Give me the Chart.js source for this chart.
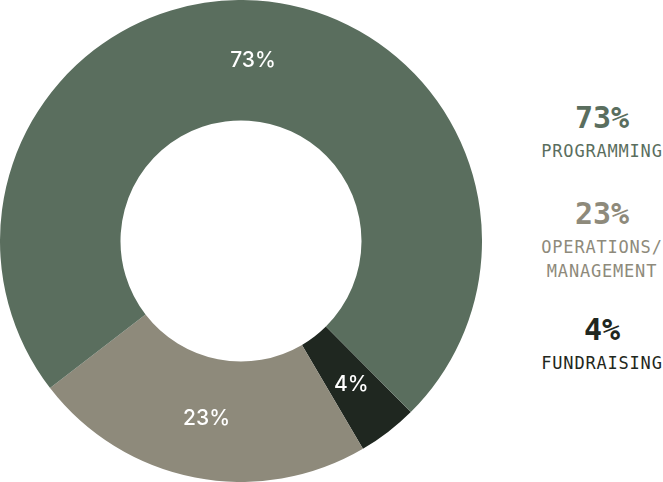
<!DOCTYPE html>
<html>
<head>
<meta charset="utf-8">
<script src="https://cdn.jsdelivr.net/npm/chart.js@4/dist/chart.umd.min.js"></script>
<style>
  body { margin: 0; background: #fff; width: 663px; height: 482px; position: relative; overflow: hidden; }
  #wrap { position: absolute; left: 0; top: 0; width: 482px; height: 482px; }
  #legend { position: absolute; left: 532px; width: 140px; top: 0; text-align: center; font-family: "DejaVu Sans Mono", monospace; }
  .item { position: absolute; left: 0; width: 100%; }
  .pct { font-size: 30px; line-height: 34px; font-weight: bold; }
  .lbl { font-size: 17px; line-height: 24px; margin-top: 4px; letter-spacing: 0.8px; }
</style>
</head>
<body>
<div id="wrap"><canvas id="pie"></canvas></div>
<div id="legend"></div>
<script>
// legend order
const categories = ["PROGRAMMING", "OPERATIONS/\nMANAGEMENT", "FUNDRAISING"];
const values = [73, 23, 4];
const colors = ["#5a6e5e", "#8e8a7b", "#1f2720"];

// legend tops
const legendTops = [101, 197, 313];

const legend = document.getElementById("legend");
categories.forEach((c, i) => {
  let div = document.createElement("div");
  div.className = "item";
  div.style.top = legendTops[i] + "px";
  div.style.color = colors[i];
  div.innerHTML = '<div class="pct">' + values[i] + '%</div><div class="lbl">' + c.replace("\n", "<br>") + "</div>";
  legend.appendChild(div);
});

// chart draws slices clockwise: fundraising, operations, programming
const order = [2, 1, 0];

const sliceLabels = {
  id: "sliceLabels",
  afterDatasetsDraw(chart) {
    const ctx = chart.ctx;
    const meta = chart.getDatasetMeta(0);
    ctx.save();
    ctx.fillStyle = "#fff";
    ctx.font = "500 21px Inter";
    ctx.textAlign = "center";
    ctx.textBaseline = "middle";
    meta.data.forEach((arc, i) => {
      const p = arc.tooltipPosition();
      ctx.fillText(chart.data.datasets[0].data[i] + "%", p.x, p.y);
    });
    ctx.restore();
  }
};

new Chart(document.getElementById("pie"), {
  type: "doughnut",
  data: {
    labels: order.map(i => categories[i]),
    datasets: [{
      data: order.map(i => values[i]),
      backgroundColor: order.map(i => colors[i]),
      borderWidth: 0
    }]
  },
  options: {
    responsive: true,
    maintainAspectRatio: false,
    animation: false,
    cutout: "50%",
    rotation: 135.2,
    layout: { padding: 0 },
    plugins: { legend: { display: false }, tooltip: { enabled: false } }
  },
  plugins: [sliceLabels]
});
</script>
</body>
</html>
